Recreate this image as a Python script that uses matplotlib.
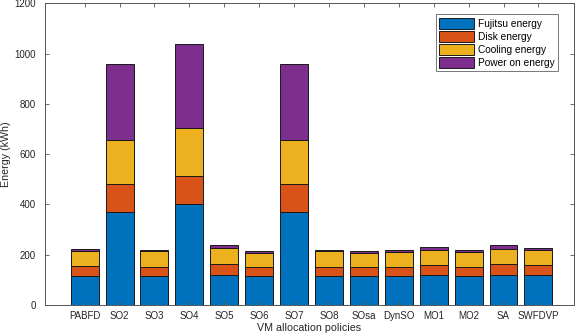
import numpy as np
import matplotlib.pyplot as plt

plt.rcParams['font.family'] = ['Liberation Sans', 'DejaVu Sans']

# Energy per VM allocation policy (kWh), stacked
policies = ['PABFD', 'SO2', 'SO3', 'SO4', 'SO5', 'SO6', 'SO7', 'SO8',
            'SOsa', 'DynSO', 'MO1', 'MO2', 'SA', 'SWFDVP']
fujitsu = [117, 372, 114, 400, 121, 116, 372, 116, 116, 116, 121, 116, 121, 118]
disk = [40, 108, 39, 115, 44, 36, 108, 37, 36, 37, 40, 37, 42, 42]
cooling = [58, 178, 60, 190, 62, 55, 178, 60, 55, 57, 58, 58, 60, 57]
power_on = [7, 302, 5, 335, 11, 8, 302, 6, 8, 7, 10, 7, 14, 9]

series = [('Fujitsu energy', fujitsu, '#0072BD'),
          ('Disk energy', disk, '#D95319'),
          ('Cooling energy', cooling, '#EDB120'),
          ('Power on energy', power_on, '#7E2F8E')]

fig = plt.figure(figsize=(5.81, 3.36), dpi=100)
ax = fig.add_axes([0.0766, 0.0923, 0.9114, 0.8973])

x = np.arange(len(policies))
bottom = np.zeros(len(policies))
for name, vals, col in series:
    ax.bar(x, vals, width=0.8, bottom=bottom, color=col, edgecolor='#1a1a1a',
           linewidth=0.7, label=name)
    bottom += np.array(vals)

ax.set_xlim(-1.15, 14.02)
ax.set_ylim(0, 1200)
ax.set_yticks(range(0, 1201, 200))
ax.set_xticks(x)
ax.set_xticklabels(policies)

ax.tick_params(direction='in', length=3, width=0.6, color='#555555',
               labelsize=7, labelcolor='#262626', top=True, right=True, pad=4)
ax.tick_params(axis='y', pad=6)
for s in ax.spines.values():
    s.set_color('#555555')
    s.set_linewidth(0.7)

ax.set_xlabel('VM allocation policies', fontsize=7.7, color='#262626', labelpad=2)
ax.set_ylabel('Energy (kWh)', fontsize=7.7, color='#262626', va='center')
ax.yaxis.set_label_coords(-0.073, 0.5)

leg = ax.legend(loc='upper right', bbox_to_anchor=(0.97, 0.965), fontsize=7.3,
                frameon=True, fancybox=False, handlelength=3.4, handleheight=1.3,
                labelspacing=0.2, borderpad=0.35, handletextpad=0.4,
                borderaxespad=0)
leg.get_frame().set_edgecolor('#555555')
leg.get_frame().set_linewidth(0.7)

fig.savefig('out.png', dpi=100)
